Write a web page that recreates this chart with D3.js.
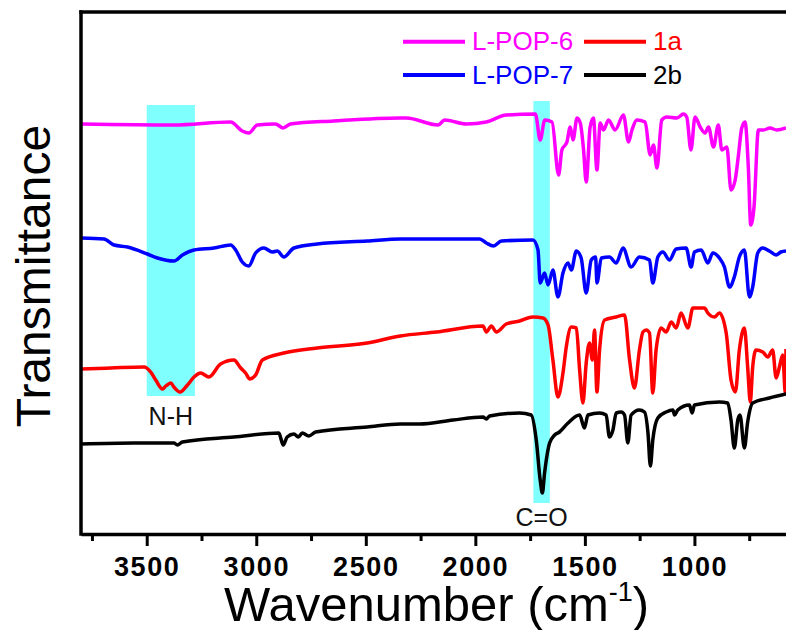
<!DOCTYPE html>
<html>
<head>
<meta charset="utf-8">
<script src="https://cdn.jsdelivr.net/npm/d3@7"></script>
<style>
  body { margin: 0; background: #fff; }
  svg { display: block; font-family: "Liberation Sans", Arial, sans-serif; }
</style>
</head>
<body>
<div id="chart"></div>
<script>
// FTIR spectra, [wavenumber cm-1, transmittance (offset, a.u.)]
const lpop6 = [[3800,41.0],[3377,40.9],[3117,41.2],[3064,40.3],[3034,40.1],[2995,40.9],[2912,41.0],[2877,40.6],[2844,41.0],[2647,41.3],[2342,41.6],[2315,41.6],[2170,40.9],[2140,41.4],[2041,41.0],[1950,41.2],[1859,41.9],[1726,42.0],[1704,39.4],[1683,41.4],[1650,41.2],[1620,35.9],[1605,38.4],[1582,39.2],[1567,40.7],[1554,39.4],[1536,41.6],[1521,41.1],[1506,38.4],[1494,35.2],[1476,40.7],[1461,41.6],[1445,36.4],[1430,41.1],[1415,40.4],[1392,41.4],[1362,40.4],[1324,41.9],[1301,39.2],[1285,40.4],[1263,41.4],[1225,41.2],[1202,37.9],[1187,38.9],[1171,36.6],[1149,41.4],[1126,41.7],[1080,41.6],[1050,42.0],[1035,41.7],[1016,38.4],[997,41.7],[974,40.7],[951,40.1],[936,40.7],[913,38.7],[891,40.9],[875,38.4],[852,38.7],[833,34.4],[814,35.4],[799,37.9],[784,40.6],[769,41.2],[754,36.7],[743,30.9],[728,32.7],[708,40.4],[685,40.4],[655,40.6],[624,40.4],[582,40.6]];

const lpop7 = [[3800,29.6],[3695,29.5],[3649,28.9],[3588,28.7],[3497,28.0],[3451,27.6],[3376,27.3],[3337,27.9],[3284,28.4],[3193,28.6],[3117,28.9],[3094,28.4],[3064,27.2],[3034,26.8],[3003,28.1],[2965,28.6],[2927,28.2],[2904,28.3],[2874,27.7],[2828,28.6],[2722,29.0],[2494,29.3],[2342,29.5],[2254,29.5],[1980,29.5],[1950,29.1],[1917,28.8],[1881,29.3],[1737,29.4],[1714,28.4],[1704,25.1],[1684,26.1],[1668,24.9],[1646,26.4],[1623,23.7],[1600,26.1],[1577,27.1],[1562,26.4],[1539,28.3],[1517,27.6],[1494,24.1],[1471,27.4],[1451,27.7],[1445,25.1],[1425,27.6],[1388,27.7],[1357,27.1],[1326,28.6],[1289,26.7],[1251,27.7],[1205,27.4],[1190,25.1],[1167,27.7],[1144,28.2],[1114,27.4],[1083,28.5],[1038,28.6],[1015,26.7],[1000,28.2],[969,28.4],[939,27.1],[916,28.1],[886,27.6],[863,26.7],[840,24.7],[818,25.7],[795,27.7],[772,28.4],[749,23.7],[734,24.7],[711,28.1],[688,28.6],[658,28.3],[627,27.9],[605,28.2],[582,28.3]];

const s1a = [[3800,16.5],[3664,16.6],[3512,16.7],[3482,16.2],[3459,15.4],[3428,14.5],[3413,14.8],[3390,15.1],[3376,14.7],[3348,14.2],[3314,14.9],[3284,15.7],[3254,16.1],[3216,15.7],[3163,17.0],[3102,17.4],[3071,16.6],[3049,16.1],[3029,15.5],[3003,15.9],[2972,17.4],[2874,18.1],[2722,18.6],[2494,19.1],[2342,19.8],[2178,20.2],[1965,20.8],[1950,20.2],[1927,20.8],[1904,20.2],[1859,21.0],[1798,21.3],[1737,21.7],[1691,21.6],[1668,20.9],[1646,17.4],[1623,13.7],[1600,16.1],[1585,18.7],[1562,20.7],[1539,20.6],[1524,16.4],[1509,13.1],[1494,17.1],[1479,19.1],[1466,17.4],[1456,20.4],[1445,14.2],[1433,18.4],[1410,21.4],[1357,21.7],[1319,21.9],[1296,17.4],[1274,14.6],[1251,18.4],[1235,20.2],[1220,20.4],[1205,20.1],[1190,14.1],[1175,18.4],[1152,20.6],[1129,20.2],[1106,21.2],[1083,20.6],[1061,22.1],[1030,20.6],[1007,22.6],[954,22.6],[939,22.1],[909,21.7],[886,22.1],[855,20.1],[833,15.4],[813,14.2],[795,18.4],[772,20.6],[757,16.7],[745,13.2],[734,16.7],[719,18.4],[688,18.2],[665,17.7],[643,18.4],[627,15.6],[612,16.7],[597,17.9],[585,14.1],[582,18.5]];

const s2b = [[3800,9.0],[3558,9.1],[3376,9.1],[3360,8.9],[3337,9.2],[3102,9.7],[2897,10.1],[2877,8.9],[2859,9.7],[2828,10.0],[2808,9.7],[2790,10.1],[2760,9.8],[2729,10.2],[2494,10.7],[2342,11.0],[2254,11.0],[2102,11.4],[1965,11.7],[1950,11.5],[1935,11.8],[1798,12.1],[1745,11.9],[1722,9.4],[1704,5.4],[1694,4.1],[1684,6.1],[1661,9.1],[1638,9.9],[1616,10.2],[1577,11.1],[1524,11.9],[1502,10.6],[1486,11.9],[1433,12.1],[1403,11.9],[1388,9.7],[1372,10.4],[1357,12.1],[1334,12.2],[1319,11.9],[1304,9.1],[1289,11.9],[1251,12.4],[1228,12.2],[1212,10.1],[1201,6.8],[1190,9.4],[1167,11.6],[1129,12.2],[1098,12.4],[1091,11.9],[1076,12.4],[1023,12.9],[1010,12.1],[1000,12.9],[886,13.2],[848,13.1],[833,11.4],[818,8.6],[802,11.4],[792,11.9],[772,8.6],[757,11.2],[734,13.1],[658,13.6],[582,14.0]];

const seriesNames = ["L-POP-6", "1a", "L-POP-7", "2b"];
const seriesData = [lpop6, s1a, lpop7, s2b];
const seriesColors = ["#ff00ff", "#ff0000", "#0000ff", "#000000"];

const majorTicks = [3500, 3000, 2500, 2000, 1500, 1000];
const minorTicks = [3750, 3250, 2750, 2250, 1750, 1250, 750];

// highlighted regions: [from, to, low, high] in data units
const bandLabels = ["N-H", "C=O"];
const bandRanges = [[3500, 3280, 13.8, 42.9], [1735, 1660, 3.1, 43.3]];

const width = 786, height = 630;
const margin = { top: 12, right: 0, bottom: 96, left: 81 };

const svg = d3.select("#chart").append("svg")
  .attr("width", width)
  .attr("height", height);

const x = d3.scaleLinear()
  .domain([3800, 582])
  .range([margin.left, width - margin.right]);

const y = d3.scaleLinear()
  .domain([0, 52.2])
  .range([height - margin.bottom, margin.top]);

// bands behind the traces
const bands = svg.append("g");
bandRanges.forEach(function (b, i) {
  bands.append("rect")
    .attr("x", x(b[0]))
    .attr("width", x(b[1]) - x(b[0]))
    .attr("y", y(b[3]))
    .attr("height", y(b[2]) - y(b[3]))
    .attr("fill", "#80ffff");
});

svg.append("text")
  .attr("x", (x(bandRanges[0][0]) + x(bandRanges[0][1])) / 2)
  .attr("y", y(bandRanges[0][2]) + 29)
  .attr("text-anchor", "middle")
  .style("font-size", "25px")
  .attr("fill", "#111")
  .text(bandLabels[0]);

svg.append("text")
  .attr("x", (x(bandRanges[1][0]) + x(bandRanges[1][1])) / 2)
  .attr("y", y(bandRanges[1][2]) + 23)
  .attr("text-anchor", "middle")
  .style("font-size", "25px")
  .attr("fill", "#111")
  .text(bandLabels[1]);

// traces
const line = d3.line()
  .x(function (d) { return x(d[0]); })
  .y(function (d) { return y(d[1]); })
  .curve(d3.curveMonotoneX);

svg.append("clipPath").attr("id", "clip")
  .append("rect")
  .attr("x", margin.left).attr("y", margin.top)
  .attr("width", width - margin.left).attr("height", height - margin.top - margin.bottom);

svg.append("g").attr("clip-path", "url(#clip)")
  .selectAll("path")
  .data(seriesData)
  .enter()
  .append("path")
  .attr("d", line)
  .attr("fill", "none")
  .attr("stroke", function (d, i) { return seriesColors[i]; })
  .attr("stroke-width", 3.5)
  .attr("stroke-linejoin", "round");

// axes
const xAxis = svg.append("g")
  .attr("transform", "translate(0," + (height - margin.bottom) + ")")
  .call(d3.axisBottom(x).tickValues(majorTicks).tickSize(12).tickSizeOuter(0).tickFormat(d3.format("d")));

xAxis.select(".domain").attr("stroke-width", 3.5);
xAxis.selectAll(".tick line").attr("stroke-width", 3);
xAxis.selectAll(".tick text")
  .attr("y", 42)
  .attr("dy", 0)
  .style("font-size", "27px")
  .style("font-weight", "bold")
  .style("letter-spacing", "1.6px")
  .attr("font-family", null);

svg.append("g")
  .attr("transform", "translate(0," + (height - margin.bottom) + ")")
  .call(d3.axisBottom(x).tickValues(minorTicks).tickSize(7).tickSizeOuter(0).tickFormat(""))
  .call(function (g) { g.select(".domain").remove(); })
  .selectAll(".tick line").attr("stroke-width", 3);

// left and top frame lines
svg.append("line")
  .attr("x1", margin.left).attr("x2", margin.left)
  .attr("y1", margin.top - 1.7).attr("y2", height - margin.bottom + 1.7)
  .attr("stroke", "#000").attr("stroke-width", 3.5);

svg.append("line")
  .attr("x1", margin.left - 1.7).attr("x2", width)
  .attr("y1", margin.top).attr("y2", margin.top)
  .attr("stroke", "#000").attr("stroke-width", 3.5);

// axis titles
const xTitle = svg.append("text")
  .attr("x", 224)
  .attr("y", 621)
  .style("font-size", "49px");
xTitle.append("tspan").text("Wavenumber (cm");
xTitle.append("tspan").attr("dy", -20).style("font-size", "27px").text("-1");
xTitle.append("tspan").attr("dy", 20).text(")");

svg.append("text")
  .attr("transform", "translate(50,276) rotate(-90)")
  .attr("text-anchor", "middle")
  .style("font-size", "48px")
  .text("Transmittance");

// legend, two rows of two
const legend = svg.append("g");
seriesNames.forEach(function (name, i) {
  const col = i % 2, row = Math.floor(i / 2);
  const lx = 403 + col * 181, ly = 41.7 + row * 33.3;
  legend.append("line")
    .attr("x1", lx).attr("x2", lx + 62)
    .attr("y1", ly).attr("y2", ly)
    .attr("stroke", seriesColors[i])
    .attr("stroke-width", 4);
  legend.append("text")
    .attr("x", lx + 69)
    .attr("y", ly + 8.5)
    .style("font-size", "26px")
    .attr("fill", seriesColors[i])
    .text(name);
});
</script>
</body>
</html>
